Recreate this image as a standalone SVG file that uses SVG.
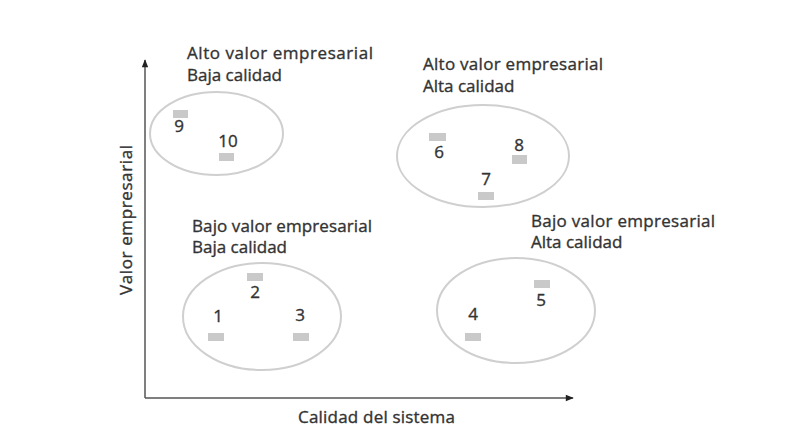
<svg xmlns="http://www.w3.org/2000/svg" width="787" height="435" viewBox="0 0 787 435">
<style>
text{font-family:"Open Sans","Liberation Sans",sans-serif;font-size:17px;fill:#333;stroke:#333;stroke-width:0.35}
.num{text-anchor:middle}
.blob{fill:none;stroke:#cfcfcf;stroke-width:2}
.sys{fill:#c9c9c9}
.axis{stroke:#555;stroke-width:1.5;fill:none}
</style>
<defs>
<marker id="ah" viewBox="0 0 10 10" refX="9" refY="5" markerWidth="9" markerHeight="8" markerUnits="userSpaceOnUse" orient="auto">
<path d="M0,1 L10,5 L0,9 Z" fill="#222"/>
</marker>
</defs>
<rect width="787" height="435" fill="#fff"/>
<g id="axes" class="connectors">
<line class="axis" x1="145" y1="398" x2="145" y2="60" marker-end="url(#ah)"/>
<line class="axis" x1="145" y1="398" x2="573" y2="398" marker-end="url(#ah)"/>
</g>
<text x="132" y="220" text-anchor="middle" transform="rotate(-90 132 220)" textLength="150">Valor empresarial</text>
<text x="298" y="423" textLength="157">Calidad del sistema</text>

<g id="q-alto-baja">
<ellipse class="blob" cx="216.5" cy="133.5" rx="66.5" ry="41.5"/>
<text x="187" y="59" textLength="186">Alto valor empresarial</text>
<text x="187" y="81">Baja calidad</text>
<rect class="sys" x="173" y="110" width="15" height="8"/>
<text class="num" x="179" y="132">9</text>
<rect class="sys" x="219" y="153" width="15" height="8"/>
<text class="num" x="228" y="147">10</text>
</g>

<g id="q-alto-alta">
<ellipse class="blob" cx="483" cy="156" rx="86" ry="51"/>
<text x="423" y="70" textLength="180">Alto valor empresarial</text>
<text x="423" y="92">Alta calidad</text>
<rect class="sys" x="429" y="133" width="17" height="8"/>
<text class="num" x="439" y="158">6</text>
<rect class="sys" x="512" y="155" width="15" height="9"/>
<text class="num" x="519" y="151">8</text>
<rect class="sys" x="478" y="192" width="16" height="8"/>
<text class="num" x="486" y="185">7</text>
</g>

<g id="q-bajo-baja">
<ellipse class="blob" cx="262" cy="316.5" rx="79" ry="53.5"/>
<text x="192" y="232" textLength="180">Bajo valor empresarial</text>
<text x="192" y="253">Baja calidad</text>
<rect class="sys" x="247" y="273" width="16" height="8"/>
<text class="num" x="255" y="298">2</text>
<rect class="sys" x="208" y="333" width="16" height="8"/>
<text class="num" x="218" y="322">1</text>
<rect class="sys" x="293" y="333" width="16" height="8"/>
<text class="num" x="300" y="321">3</text>
</g>

<g id="q-bajo-alta">
<ellipse class="blob" cx="516" cy="310.5" rx="79" ry="52.5"/>
<text x="531" y="227" textLength="184">Bajo valor empresarial</text>
<text x="531" y="248">Alta calidad</text>
<rect class="sys" x="534" y="280" width="16" height="8"/>
<text class="num" x="541" y="306">5</text>
<rect class="sys" x="465" y="333" width="16" height="8"/>
<text class="num" x="473" y="320">4</text>
</g>
</svg>
